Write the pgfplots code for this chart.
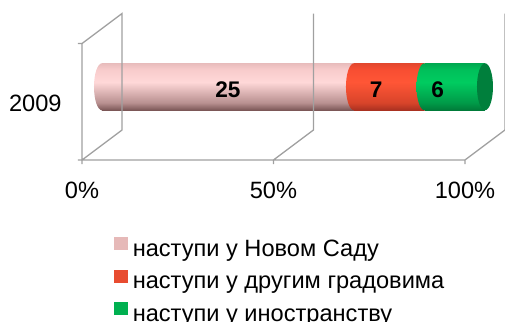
\documentclass[border=0pt]{standalone}
\usepackage{fontspec}
\setmainfont{Liberation Sans}
\usepackage{pgfplots}
\pgfplotsset{compat=1.18}
\definecolor{pinkc}{HTML}{E6B9B8}
\definecolor{redc}{HTML}{E84C30}
\definecolor{greenc}{HTML}{00B050}
\definecolor{gridc}{HTML}{A0A0A0}
\definecolor{pk1}{HTML}{7A5555}
\definecolor{pk2}{HTML}{B89090}
\definecolor{pk3}{HTML}{FFD8D8}
\definecolor{pk4}{HTML}{F8CCCC}
\definecolor{pk5}{HTML}{E8BCBC}
\definecolor{rd1}{HTML}{A83020}
\definecolor{rd2}{HTML}{D8442A}
\definecolor{rd3}{HTML}{FF5636}
\definecolor{rd4}{HTML}{F84E32}
\definecolor{rd5}{HTML}{E2472E}
\definecolor{gr1}{HTML}{007A38}
\definecolor{gr2}{HTML}{009A48}
\definecolor{gr3}{HTML}{00CC60}
\definecolor{gr4}{HTML}{00C05A}
\definecolor{gr5}{HTML}{00A850}
\definecolor{grface}{HTML}{007F3C}
\pgfdeclareverticalshading{pinkcyl}{100bp}{color(0bp)=(pk1); color(25bp)=(pk1); color(33bp)=(pk2); color(55bp)=(pk3); color(68bp)=(pk4); color(75bp)=(pk5); color(100bp)=(pk5)}
\pgfdeclareverticalshading{redcyl}{100bp}{color(0bp)=(rd1); color(25bp)=(rd1); color(33bp)=(rd2); color(55bp)=(rd3); color(68bp)=(rd4); color(75bp)=(rd5); color(100bp)=(rd5)}
\pgfdeclareverticalshading{greencyl}{100bp}{color(0bp)=(gr1); color(25bp)=(gr1); color(33bp)=(gr2); color(55bp)=(gr3); color(68bp)=(gr4); color(75bp)=(gr5); color(100bp)=(gr5)}
\begin{document}
\begin{tikzpicture}
\begin{axis}[
 scale only axis, width=191.5pt, height=58.25pt,
 xmin=0, xmax=38, ymin=-1, ymax=1, clip=false,
 enlargelimits=false,
 xbar stacked, bar width=23.5pt,
 axis line style={draw=none}, tick style={draw=none},
 xtick={0,19,38}, xticklabels={0\%,50\%,100\%},
 ytick={0}, yticklabels={2009},
 ticklabel style={font=\fontsize{11.8}{13}\selectfont, inner sep=0pt},
 xticklabel style={anchor=base, xshift=-10pt, yshift=-26.5pt},
 yticklabel style={anchor=base east, xshift=-20pt, yshift=-12.25pt},
 point meta=explicit,
 nodes near coords={\pgfmathprintnumber{\pgfplotspointmeta}},
 every node near coord/.append style={font=\fontsize{11.3}{13}\selectfont\bfseries, anchor=base, yshift=-5.4pt, inner sep=0pt},
 /pgf/number format/assume math mode=true,
 legend style={at={(axis description cs:0.0313,-0.787)}, anchor=north west, draw=none, fill=none, inner sep=0pt, row sep=4.75pt, column sep=2.5pt, font=\fontsize{11.8}{13}\selectfont, nodes={inner sep=0pt, text height=7pt, text depth=2pt}},
 legend cell align=left,
]
% 3D frame
\draw[gridc, line width=0.65pt]
  ([shift={(-12pt,-7.5pt)}]axis cs:0,-1) -- ([shift={(-10pt,-7.5pt)}]axis cs:38,-1)
  ([shift={(-10pt,-7.5pt)}]axis cs:0,-1) -- ([shift={(10pt,7.5pt)}]axis cs:0,-1) -- ([shift={(10pt,7.5pt)}]axis cs:0,1) -- ([shift={(-10pt,-7.5pt)}]axis cs:0,1) -- ([shift={(-10pt,-7.5pt)}]axis cs:0,-1)
  ([shift={(-12pt,-7.5pt)}]axis cs:0,1) -- ([shift={(-10pt,-7.5pt)}]axis cs:0,1)
  ([shift={(-10pt,-7.5pt)}]axis cs:19,-1) -- ([shift={(10pt,7.5pt)}]axis cs:19,-1) -- ([shift={(10pt,7.5pt)}]axis cs:19,1)
  ([shift={(-10pt,-7.5pt)}]axis cs:38,-1) -- ([shift={(10pt,7.5pt)}]axis cs:38,-1) -- ([shift={(10pt,7.5pt)}]axis cs:38,1)
  ([shift={(-10pt,-7.5pt)}]axis cs:0,-1) -- ([shift={(-10pt,-9.5pt)}]axis cs:0,-1)
  ([shift={(-10pt,-7.5pt)}]axis cs:19,-1) -- ([shift={(-10pt,-9.5pt)}]axis cs:19,-1)
  ([shift={(-10pt,-7.5pt)}]axis cs:38,-1) -- ([shift={(-10pt,-9.5pt)}]axis cs:38,-1);
\addplot[forget plot, draw=none, shade, shading=pinkcyl] coordinates {(25,0) [25]};
\addplot[forget plot, draw=none, shade, shading=redcyl, every node near coord/.append style={xshift=-6.5pt}] coordinates {(7,0) [7]};
\addplot[forget plot, draw=none, shade, shading=greencyl, every node near coord/.append style={xshift=-8.5pt}] coordinates {(6,0) [6]};
\coordinate (c0) at (axis cs:0,0);
\coordinate (c25) at (axis cs:25,0);
\coordinate (c32) at (axis cs:32,0);
\coordinate (c38) at (axis cs:38,0);
\addlegendimage{legend image code/.code={\fill[pinkc] (0pt,0.85pt) rectangle (6.3pt,6.85pt);}}
\addlegendentry{наступи у Новом Саду}
\addlegendimage{legend image code/.code={\fill[redc] (0pt,0.85pt) rectangle (6.3pt,6.85pt);}}
\addlegendentry{наступи у другим градовима}
\addlegendimage{legend image code/.code={\fill[greenc] (0pt,0.85pt) rectangle (6.3pt,6.85pt);}}
\addlegendentry{наступи у иностранству}
\end{axis}
% cylinder caps, drawn over the bars
\begin{scope}
\clip ([xshift=-4pt,yshift=-11.75pt]c0) rectangle ([yshift=11.75pt]c0);
\shade[shading=pinkcyl] (c0) ellipse[x radius=4pt, y radius=11.75pt];
\end{scope}
\begin{scope}
\clip ([xshift=-4pt,yshift=-11.75pt]c25) rectangle ([yshift=11.75pt]c25);
\shade[shading=redcyl] (c25) ellipse[x radius=4pt, y radius=11.75pt];
\end{scope}
\begin{scope}
\clip ([xshift=-4pt,yshift=-11.75pt]c32) rectangle ([yshift=11.75pt]c32);
\shade[shading=greencyl] (c32) ellipse[x radius=4pt, y radius=11.75pt];
\end{scope}
\fill[grface] (c38) ellipse[x radius=4pt, y radius=11.75pt];
\pgfresetboundingbox
\path[use as bounding box] ([shift={(-51pt,72.5pt)}]current axis.south west) rectangle ([shift={(201.5pt,-88.5pt)}]current axis.south west);
\end{tikzpicture}
\end{document}
